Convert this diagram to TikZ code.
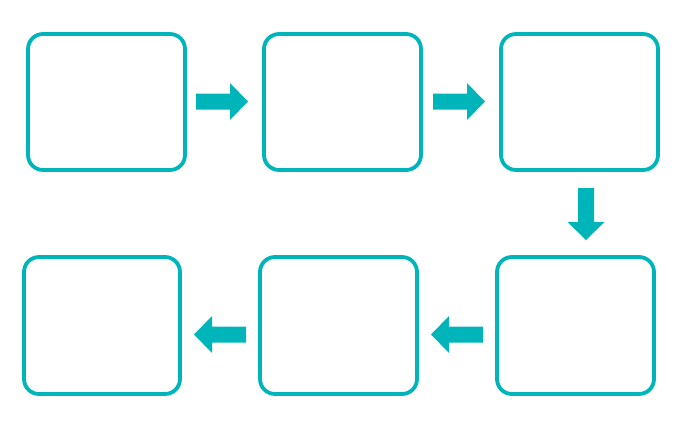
\documentclass[tikz,border=0pt]{standalone}
\usetikzlibrary{calc}
\definecolor{teal1}{HTML}{00B5BA}
\begin{document}
\begin{tikzpicture}[x=1pt,y=-1pt,
  box/.style={draw=teal1,line width=3.8pt,rounded corners=15pt,inner sep=0pt,
    outer sep=0pt,minimum width=157pt,minimum height=136pt},
  blk/.pic={\fill[teal1] (0,-8) -- (34,-8) -- (34,-18.5) -- (52,0) -- (34,18.5) -- (34,8) -- (0,8) -- cycle;}]
\useasboundingbox (0,0) rectangle (685,423);
% boxes
\node[box] (b1) at (106.5,102) {};
\node[box] (b2) at (342.5,102) {};
\node[box] (b3) at (579.5,102) {};
\node[box,minimum height=137pt] (b4) at (575.5,325.5) {};
\node[box,minimum height=137pt] (b5) at (338.5,325.5) {};
\node[box,minimum height=137pt,minimum width=156pt] (b6) at (102,325.5) {};
% block arrows
\pic at ($(b1.east)+(11,-0.5)$) {blk};
\pic at ($(b2.east)+(12,-0.5)$) {blk};
\pic[rotate=-90] at ($(b3.south)+(6.5,18)$) {blk};
\pic[rotate=180] at ($(b4.west)+(-14,9)$) {blk};
\pic[rotate=180] at ($(b5.west)+(-14,9)$) {blk};
\end{tikzpicture}
\end{document}
